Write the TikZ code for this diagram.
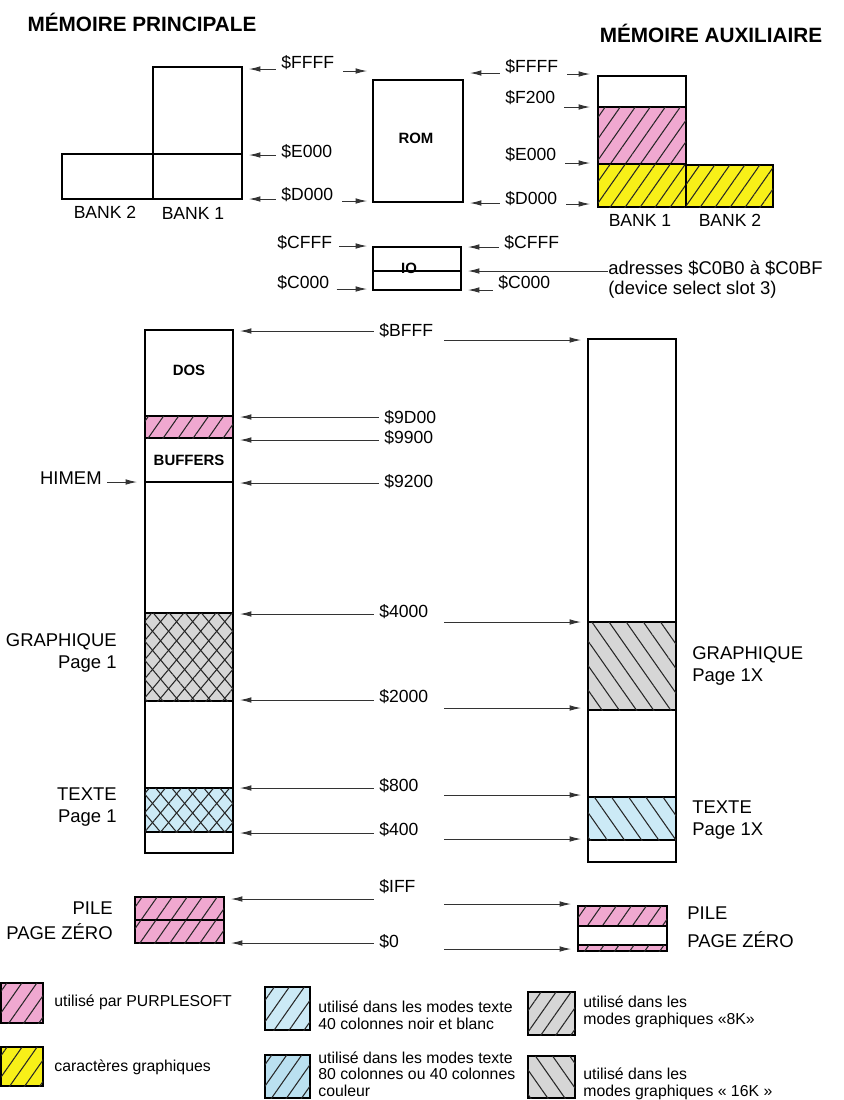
\documentclass[tikz,border=0pt]{standalone}
\usepackage{fontspec}
\setmainfont{Liberation Sans}
\usetikzlibrary{arrows.meta, patterns.meta}

\definecolor{pinkfill}{RGB}{240,168,208}
\definecolor{yellowfill}{RGB}{248,240,24}
\definecolor{grayfill}{RGB}{214,214,214}
\definecolor{bluefill}{RGB}{204,234,246}
\definecolor{bluedeep}{RGB}{186,224,240}

\begin{document}
\begin{tikzpicture}[x=0.02cm, y=-0.02cm,
    box/.style={draw, line width=0.8pt},
    arr/.style={-{Latex[length=6.5pt,width=3.2pt]}, line width=0.5pt, black!80},
    addr/.style={font=\fontsize{10}{12}\selectfont, anchor=west, inner sep=0pt},
    tag/.style={font=\bfseries\fontsize{8.5}{10}\selectfont, inner sep=0pt},
    title/.style={font=\bfseries\fontsize{11.8}{14}\selectfont, inner sep=0pt},
    bank/.style={font=\fontsize{10}{12}\selectfont, inner sep=0pt},
    zone/.style={font=\fontsize{10.5}{12.5}\selectfont, inner sep=0pt},
    legend/.style={font=\fontsize{9}{9.4}\selectfont, anchor=west, align=left, inner sep=0pt},
    fwd/.style={postaction={pattern={Lines[angle=55,distance=7pt,line width=0.6pt]}, pattern color=black!85}},
    bwd/.style={postaction={pattern={Lines[angle=-55,distance=8pt,line width=0.6pt]}, pattern color=black!85}},
    cross/.style={postaction={pattern={Lines[angle=50,distance=7pt,line width=0.6pt]}, pattern color=black!85},
                  postaction={pattern={Lines[angle=-50,distance=7pt,line width=0.6pt]}, pattern color=black!85}},
]
  \useasboundingbox (0,0) rectangle (843,1100);

  % Titles
  \node[title] (tmain) at (142,22) {MÉMOIRE PRINCIPALE};
  \node[title] (taux) at (711,33) {MÉMOIRE AUXILIAIRE};

  % Main memory, banks $D000-$FFFF
  \draw[box] (153,67) rectangle (242,199);
  \draw[box] (62,154) rectangle (153,199);
  \draw[box] (153,154) -- (242,154);
  \node[bank] (mb2) at (105,212) {BANK 2};
  \node[bank] (mb1) at (193,213) {BANK 1};

  \coordinate (mFFFF) at (249,69);
  \coordinate (mE000) at (249,155);
  \coordinate (mD000) at (249,199);
  \node[addr] (nA1) at (281,63) {\$FFFF};
  \node[addr] (nA2) at (281,152) {\$E000};
  \node[addr] (nA3) at (281,195) {\$D000};
  \draw[arr] ([xshift=-3pt]nA1.west |- mFFFF) -- (mFFFF);
  \draw[arr] ([xshift=-3pt]nA2.west |- mE000) -- (mE000);
  \draw[arr] ([xshift=-3pt]nA3.west |- mD000) -- (mD000);

  % ROM
  \draw[box] (373,80) rectangle (463,202);
  \node[tag] (rom) at (416,138) {ROM};
  \coordinate (rFFFFl) at (367,71);
  \coordinate (rD000l) at (367,201);
  \coordinate (rFFFFr) at (470,73);
  \coordinate (rD000r) at (470,203);
  \draw[arr] ([xshift=5pt]nA1.east |- rFFFFl) -- (rFFFFl);
  \draw[arr] ([xshift=5pt]nA3.east |- rD000l) -- (rD000l);

  \node[addr] (nB1) at (505,67) {\$FFFF};
  \node[addr] (nB2) at (505,98) {\$F200};
  \node[addr] (nB3) at (505,155) {\$E000};
  \node[addr] (nB4) at (505,199) {\$D000};
  \draw[arr] ([xshift=-3pt]nB1.west |- rFFFFr) -- (rFFFFr);
  \draw[arr] ([xshift=-3pt]nB4.west |- rD000r) -- (rD000r);

  % Auxiliary memory, banks
  \draw[box] (598,76) rectangle (686,107);
  \draw[box, fill=pinkfill, fwd] (598,107) rectangle (686,164);
  \draw[box, fill=yellowfill, fwd] (598,164) rectangle (686,207);
  \draw[box, fill=yellowfill, fwd] (686,165) rectangle (773,207);
  \node[bank] (ab1) at (640,220) {BANK 1};
  \node[bank] (ab2) at (730,220) {BANK 2};

  \coordinate (aFFFF) at (590,74);
  \coordinate (aF200) at (590,107);
  \coordinate (aE000) at (590,163);
  \coordinate (aD000) at (590,204);
  \draw[arr] ([xshift=5pt]nB1.east |- aFFFF) -- (aFFFF);
  \draw[arr] ([xshift=5pt]nB2.east |- aF200) -- (aF200);
  \draw[arr] ([xshift=5pt]nB3.east |- aE000) -- (aE000);
  \draw[arr] ([xshift=5pt]nB4.east |- aD000) -- (aD000);

  % IO page
  \draw[box] (373,247) rectangle (461,290);
  \draw[box] (373,271) -- (461,271);
  \node[tag] (io) at (409,268) {IO};
  \coordinate (iCFFFl) at (367,246);
  \coordinate (iC000l) at (367,289);
  \coordinate (iCFFFr) at (468,247);
  \coordinate (iC000r) at (468,290);
  \coordinate (iC0B0) at (468,271);
  \node[addr] (nC1) at (277,243) {\$CFFF};
  \node[addr] (nC2) at (277,283) {\$C000};
  \node[addr] (nC3) at (504,243) {\$CFFF};
  \node[addr] (nC4) at (498,283) {\$C000};
  \draw[arr] ([xshift=4pt]nC1.east |- iCFFFl) -- (iCFFFl);
  \draw[arr] ([xshift=4pt]nC2.east |- iC000l) -- (iC000l);
  \draw[arr] ([xshift=-3pt]nC3.west |- iCFFFr) -- (iCFFFr);
  \draw[arr] ([xshift=-3pt]nC4.west |- iC000r) -- (iC000r);
  \node[zone, anchor=west] (nD1) at (608,268) {adresses \$C0B0 à \$C0BF};
  \node[zone, anchor=west] (nD2) at (608,290) {(device select slot 3)};
  \draw[arr] (nD1.west |- iC0B0) -- (iC0B0);

  % Main memory, $0000-$BFFF
  \draw[box] (145,330) rectangle (233,853);
  \node[tag] (dos) at (189,370) {DOS};
  \draw[box, fill=pinkfill, fwd] (145,416) rectangle (233,438);
  \node[tag] (buf) at (189,460) {BUFFERS};
  \draw[box] (145,482) -- (233,482);
  \draw[box, fill=grayfill, cross] (145,613) rectangle (233,701);
  \draw[box, fill=bluefill, cross] (145,788) rectangle (233,832);

  \node[zone, anchor=east] (himem) at (102,478) {HIMEM};
  \coordinate (mHIMEM) at (137,482);
  \draw[arr] ([xshift=3pt]himem.east |- mHIMEM) -- (mHIMEM);

  \node[zone, anchor=east, align=right] (gr1) at (117,653) {GRAPHIQUE\\Page 1};
  \node[zone, anchor=east, align=right] (tx1) at (117,807) {TEXTE\\Page 1};

  % Auxiliary memory, $0000-$BFFF
  \draw[box] (588,339) rectangle (676,862);
  \draw[box, fill=grayfill, bwd] (588,622) rectangle (676,710);
  \draw[box, fill=bluefill, bwd] (588,797) rectangle (676,840);

  \node[zone, anchor=west, align=left] (gr2) at (692,666) {GRAPHIQUE\\Page 1X};
  \node[zone, anchor=west, align=left] (tx2) at (692,820) {TEXTE\\Page 1X};

  % Stack and zero page
  \draw[box, fill=pinkfill, fwd] (135,897) rectangle (224,920);
  \draw[box, fill=pinkfill, fwd] (135,920) rectangle (224,943);
  \node[zone, anchor=east] (pile1) at (113,908) {PILE};
  \node[zone, anchor=east] (pz1) at (113,932) {PAGE ZÉRO};

  \draw[box, fill=pinkfill, fwd] (578,906) rectangle (667,926);
  \draw[box] (578,926) rectangle (667,945);
  \draw[box, fill=pinkfill, fwd] (578,945) rectangle (667,951);
  \node[zone, anchor=west] (pile2) at (687,913) {PILE};
  \node[zone, anchor=west] (pz2) at (687,940) {PAGE ZÉRO};

  % Addresses shared by both columns
  \coordinate (gapR) at (444,0);
  \foreach \n/\ly/\mx/\my/\ax/\ay in {BFFF/331/240/331/581/340, 4000/612/240/614/581/622,
      2000/697/240/700/581/708, 800/786/240/788/581/795, 400/830/240/833/581/839,
      IFF/887/231/899/571/904, 0/942/231/943/571/949} {
    \coordinate (m\n) at (\mx,\my);
    \coordinate (a\n) at (\ax,\ay);
    \node[addr] (l\n) at (379,\ly) {\$\n};
    \draw[arr] ([xshift=-3pt]l\n.west |- m\n) -- (m\n);
    \draw[arr] (gapR |- a\n) -- (a\n);
  }

  % Addresses of the main column only
  \foreach \n/\ly/\my in {9D00/418/417, 9900/438/440, 9200/482/483} {
    \coordinate (m\n) at (240,\my);
    \node[addr] (l\n) at (384,\ly) {\$\n};
    \draw[arr] ([xshift=-3pt]l\n.west |- m\n) -- (m\n);
  }

  % Legend
  \draw[box, fill=pinkfill, fwd] (1,983) rectangle (43,1023);
  \node[legend] (lg1) at (54,1002) {utilisé par PURPLESOFT};
  \draw[box, fill=yellowfill, fwd] (1,1047) rectangle (43,1086);
  \node[legend] (lg2) at (54,1067) {caractères graphiques};
  \draw[box, fill=bluefill, fwd] (265,987) rectangle (310,1030);
  \node[legend] (lg3) at (318,1015) {utilisé dans les modes texte\\40 colonnes noir et blanc};
  \draw[box, fill=bluedeep, fwd] (265,1055) rectangle (310,1098);
  \node[legend] (lg4) at (318,1074) {utilisé dans les modes texte\\80 colonnes ou 40 colonnes\\couleur};
  \draw[box, fill=grayfill, fwd] (528,992) rectangle (575,1035);
  \node[legend] (lg5) at (583,1012) {utilisé dans les\\modes graphiques «8K»};
  \draw[box, fill=grayfill, bwd] (528,1056) rectangle (575,1098);
  \node[legend] (lg6) at (583,1084) {utilisé dans les\\modes graphiques « 16K »};
\end{tikzpicture}
\end{document}
